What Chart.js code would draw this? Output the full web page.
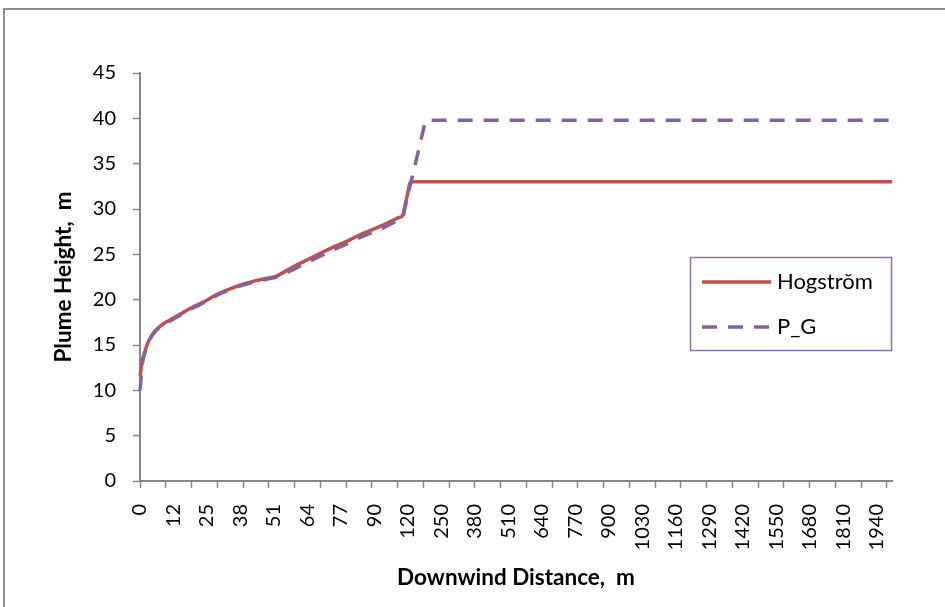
<!DOCTYPE html>
<html>
<head>
<meta charset="utf-8">
<script src="https://cdn.jsdelivr.net/npm/chart.js@4"></script>
<style>
  body { margin: 0; background: #fff; }
  #wrap { position: relative; width: 945px; height: 607px; overflow: hidden; }
  #frame { position: absolute; left: 3px; top: 8px; width: 1000px; height: 700px; border: 2px solid #8e8e8e; box-sizing: border-box; }
  canvas { position: absolute; left: 0; top: 0; }
</style>
</head>
<body>
<div id="wrap">
  <div id="frame"></div>
  <canvas id="plume" width="945" height="607"></canvas>
</div>
<script>
// downwind distance categories (m), as they sit on the category axis
let distances = [0, 0.5,
  1, 2, 3, 4, 5, 6, 7, 8, 9, 10,
  11, 12, 13, 14, 15, 16, 17, 18, 19, 20,
  21, 22, 23, 24, 25, 26, 27, 28, 29, 30,
  31, 32, 33, 34, 35, 36, 37, 38, 39, 40,
  41, 42, 43, 44, 45, 46, 47, 48, 49, 50,
  51, 52, 53, 54, 55, 56, 57, 58, 59, 60,
  61, 62, 63, 64, 65, 66, 67, 68, 69, 70,
  71, 72, 73, 74, 75, 76, 77, 78, 79, 80,
  81, 82, 83, 84, 85, 86, 87, 88, 89, 90,
  91, 92, 93, 94, 95, 96, 97, 98, 99, 100,
  105, 110,
  120, 130, 140, 150, 160, 170, 180, 190, 200,
  210, 220, 230, 240, 250, 260, 270, 280, 290, 300,
  310, 320, 330, 340, 350, 360, 370, 380, 390, 400,
  410, 420, 430, 440, 450, 460, 470, 480, 490, 500,
  510, 520, 530, 540, 550, 560, 570, 580, 590, 600,
  610, 620, 630, 640, 650, 660, 670, 680, 690, 700,
  710, 720, 730, 740, 750, 760, 770, 780, 790, 800,
  810, 820, 830, 840, 850, 860, 870, 880, 890, 900,
  910, 920, 930, 940, 950, 960, 970, 980, 990, 1000,
  1010, 1020, 1030, 1040, 1050, 1060, 1070, 1080, 1090, 1100,
  1110, 1120, 1130, 1140, 1150, 1160, 1170, 1180, 1190, 1200,
  1210, 1220, 1230, 1240, 1250, 1260, 1270, 1280, 1290, 1300,
  1310, 1320, 1330, 1340, 1350, 1360, 1370, 1380, 1390, 1400,
  1410, 1420, 1430, 1440, 1450, 1460, 1470, 1480, 1490, 1500,
  1510, 1520, 1530, 1540, 1550, 1560, 1570, 1580, 1590, 1600,
  1610, 1620, 1630, 1640, 1650, 1660, 1670, 1680, 1690, 1700,
  1710, 1720, 1730, 1740, 1750, 1760, 1770, 1780, 1790, 1800,
  1810, 1820, 1830, 1840, 1850, 1860, 1870, 1880, 1890, 1900,
  1910, 1920, 1930, 1940, 1950, 1960, 1970, 1980, 1990, 2000];

// Hogstrom plume height
let hogX = [0, 0.5, 1, 2, 3, 5, 7, 9, 14, 19, 24, 29, 34, 39, 44, 49, 52, 54, 59, 64,
  69, 74, 79, 84, 89, 94, 99, 100, 105, 110, 120, 130, 2000];
let hogY = [11.6, 13.4, 14.4, 15.2, 15.8, 16.6, 17.1, 17.5, 18.3, 19.1, 19.8, 20.6, 21.2, 21.7, 22.1, 22.4, 22.6, 22.9, 23.7, 24.4,
  25.1, 25.8, 26.4, 27.1, 27.7, 28.3, 29.0, 29.1, 29.3, 30.5, 31.8, 33.0, 33.0];

// P_G plume height
let pgX = [0, 0.5, 1, 2, 3, 5, 7, 9, 14, 19, 24, 29, 34, 39, 44, 49, 52, 54, 59, 64,
  69, 74, 79, 84, 89, 94, 99, 100, 105, 110, 120, 130, 140, 150, 160, 170, 180, 190, 2000];
let pgY = [10.0, 13.1, 14.2, 15.0, 15.7, 16.5, 17.0, 17.35, 18.2, 19.0, 19.7, 20.5, 21.1, 21.6, 22.0, 22.3, 22.5, 22.7, 23.4, 24.1,
  24.8, 25.5, 26.1, 26.8, 27.4, 28.0, 28.7, 28.8, 29.0, 30.3, 31.5, 32.7, 33.9, 35.1, 36.3, 37.5, 38.7, 39.8, 39.8];

let yTicks = [0, 45, 5]; // min, max, step

function pairs(xs, ys) {
  return xs.map((x, i) => ({ x: x, y: ys[i] }));
}

Chart.defaults.font.family = 'Lato';
Chart.defaults.color = '#000';

const axisGray = '#868686';

// legend box drawn inside the plot, like the original
const boxLegend = {
  id: 'boxLegend',
  afterDraw(chart) {
    const ctx = chart.ctx;
    ctx.save();
    ctx.strokeStyle = '#8a72ad';
    ctx.lineWidth = 1.5;
    ctx.strokeRect(690.5, 257.5, 201, 93);
    chart.data.datasets.forEach((ds, i) => {
      const y = 282 + i * 45;
      ctx.beginPath();
      ctx.setLineDash(ds.borderDash || []);
      ctx.strokeStyle = ds.borderColor;
      ctx.lineWidth = ds.borderWidth;
      ctx.moveTo(702, y);
      ctx.lineTo(771, y);
      ctx.stroke();
      ctx.setLineDash([]);
      ctx.fillStyle = '#000';
      ctx.font = '22px Lato';
      ctx.textBaseline = 'middle';
      ctx.fillText(ds.label, 777, y);
    });
    ctx.restore();
  }
};

let chart = new Chart(document.getElementById('plume').getContext('2d'), {
  type: 'line',
  data: {
    labels: distances,
    datasets: [
      {
        label: 'Hogstrŏm',
        data: pairs(hogX, hogY),
        borderColor: '#C0504D',
        borderWidth: 3.5,
        pointRadius: 0,
        cubicInterpolationMode: 'monotone',
        order: 1
      },
      {
        label: 'P_G',
        data: pairs(pgX, pgY),
        borderColor: '#8064A2',
        borderWidth: 3.5,
        borderDash: [15, 11],
        pointRadius: 0,
        cubicInterpolationMode: 'monotone',
        order: 0
      }
    ]
  },
  options: {
    responsive: false,
    animation: false,
    layout: { padding: { left: 46, top: 73, right: 53, bottom: 12 } },
    plugins: {
      legend: { display: false },
      tooltip: { enabled: false }
    },
    scales: {
      x: {
        type: 'category',
        afterFit(scale) { scale.height = 114; },
        border: { color: axisGray, width: 2 },
        grid: {
          drawOnChartArea: false,
          tickLength: 7,
          tickWidth: 1.5,
          tickColor: (c) => (c.index % 10 === 0 ? axisGray : 'rgba(0,0,0,0)')
        },
        ticks: {
          autoSkip: false,
          maxRotation: 90,
          minRotation: 90,
          padding: 16,
          font: { size: 20 },
          callback: function (value, index) {
            return index % 13 === 0 ? String(this.getLabelForValue(value)) : '';
          }
        },
        title: {
          display: true,
          text: 'Downwind Distance,  m',
          font: { size: 22.5, weight: 'bold' },
          padding: { top: 4, bottom: 4 }
        }
      },
      y: {
        min: yTicks[0],
        max: yTicks[1],
        afterFit(scale) { scale.width = 94; },
        border: { color: axisGray, width: 2 },
        grid: {
          drawOnChartArea: false,
          tickLength: 7,
          tickWidth: 1.5,
          tickColor: axisGray
        },
        ticks: {
          stepSize: yTicks[2],
          padding: 17,
          font: { size: 20 }
        },
        title: {
          display: true,
          text: 'Plume Height,  m',
          font: { size: 22.5, weight: 'bold' },
          padding: { top: 4, bottom: 4 }
        }
      }
    }
  },
  plugins: [boxLegend]
});
</script>
</body>
</html>
